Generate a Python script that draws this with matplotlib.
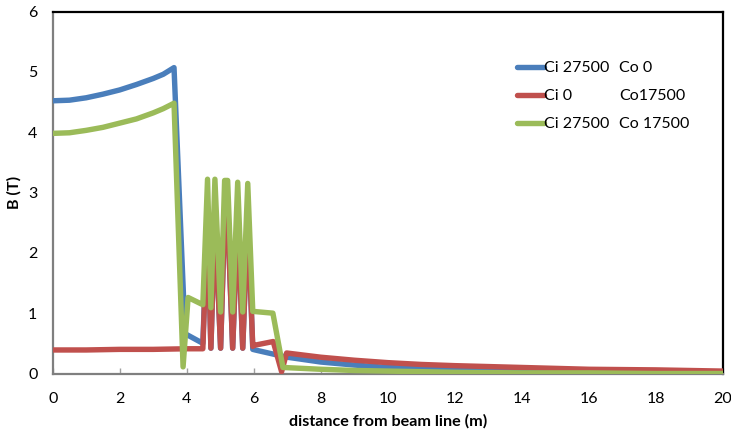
import matplotlib
matplotlib.use("Agg")
import matplotlib.pyplot as plt

plt.rcParams['font.family'] = ['Lato', 'DejaVu Sans']

# Field profiles along the radial distance from the beam line
x_blue = [0.0, 0.5, 1.0, 1.5, 2.0, 2.5, 3.0, 3.3, 3.62, 3.95, 4.48,
          4.62, 4.72, 4.84, 5.01, 5.13, 5.22, 5.37, 5.52, 5.67, 5.82, 5.97,
          6.04, 6.83, 7.0, 8.0, 9.0, 10.0, 11.0, 12.0, 14.0, 16.0, 18.0, 20.0]
b_blue = [4.52, 4.53, 4.57, 4.63, 4.70, 4.79, 4.89, 4.96, 5.07, 0.66, 0.50,
          2.60, 0.42, 2.62, 0.42, 2.62, 2.62, 0.42, 2.60, 0.42, 2.60, 0.40,
          0.39, 0.29, 0.27, 0.19, 0.14, 0.10, 0.08, 0.07, 0.05, 0.04, 0.03, 0.02]

x_red = [0.0, 1.0, 2.0, 3.0, 4.0, 4.48,
         4.62, 4.72, 4.84, 5.01, 5.13, 5.22, 5.37, 5.52, 5.67, 5.82, 5.97,
         6.04, 6.58, 6.83, 6.98, 8.0, 9.0, 10.0, 11.0, 12.0, 14.0, 16.0, 18.0, 20.0]
b_red = [0.39, 0.39, 0.40, 0.40, 0.41, 0.41,
         2.60, 0.42, 2.60, 0.42, 2.58, 2.58, 0.42, 2.60, 0.42, 2.60, 0.45,
         0.47, 0.53, 0.03, 0.34, 0.27, 0.22, 0.18, 0.15, 0.13, 0.10, 0.07, 0.06, 0.04]

x_green = [0.0, 0.5, 1.0, 1.5, 2.0, 2.5, 3.0, 3.3, 3.62, 3.89, 4.04, 4.48,
           4.62, 4.72, 4.84, 5.01, 5.13, 5.22, 5.37, 5.52, 5.67, 5.82, 5.97,
           6.57, 6.87, 8.0, 9.0, 10.0, 12.0, 14.0, 16.0, 18.0, 20.0]
b_green = [3.98, 3.99, 4.03, 4.08, 4.15, 4.22, 4.32, 4.39, 4.48, 0.11, 1.26, 1.14,
           3.22, 1.09, 3.22, 1.02, 3.20, 3.20, 1.02, 3.17, 1.02, 3.15, 1.03,
           1.00, 0.10, 0.07, 0.05, 0.04, 0.02, 0.01, 0.01, 0.00, 0.00]

labels_ci = ["Ci 27500", "Ci 0", "Ci 27500"]
labels_co = ["Co 0", "Co17500", "Co 17500"]
colors = ["#4A7EBB", "#C0504D", "#9BBB59"]

x_ticks = [0, 2, 4, 6, 8, 10, 12, 14, 16, 18, 20]
y_ticks = [0, 1, 2, 3, 4, 5, 6]

fig = plt.figure(figsize=(7.31, 4.34), dpi=100)
ax = fig.add_axes([0.0721, 0.1394, 0.989 - 0.0721, 0.9735 - 0.1394])

lw = 3.9
series = [(x_blue, b_blue), (x_red, b_red), (x_green, b_green)]
handles = []
for (xs, ys), c, lab in zip(series, colors, labels_ci):
    h, = ax.plot(xs, ys, color=c, lw=lw, label=lab,
                 solid_joinstyle='round', solid_capstyle='round', zorder=3)
    handles.append(h)

ax.set_xlim(0, 20)
ax.set_ylim(0, 6)
ax.set_xticks(x_ticks)
ax.set_yticks(y_ticks)

ax.tick_params(axis='x', direction='in', length=4, width=1, color='#A0A0A0',
               pad=13, labelsize=11.5)
ax.tick_params(axis='y', length=0, pad=11, labelsize=11.5)

for side in ['left', 'bottom']:
    ax.spines[side].set_color('#7F7F7F')
    ax.spines[side].set_linewidth(1.6)
for side in ['top', 'right']:
    ax.spines[side].set_color('black')
    ax.spines[side].set_linewidth(1.6)

ax.set_xlabel("distance from beam line (m)", fontsize=11.6, fontweight='bold',
              labelpad=6)
ax.set_ylabel("B (T)", fontsize=11.6, fontweight='bold', labelpad=5)

leg = ax.legend(handles=handles, loc='upper left',
                bbox_to_anchor=(0.681, 0.885), frameon=False, fontsize=11.5,
                handlelength=1.7, handletextpad=0.0, labelspacing=0.87,
                borderpad=0)

# Second column of the legend text
fig.canvas.draw()
renderer = fig.canvas.get_renderer()
inv = fig.transFigure.inverted()
for t, co in zip(leg.get_texts(), labels_co):
    bb = t.get_window_extent(renderer)
    ymid = (bb.y0 + bb.y1) / 2
    xf, yf = inv.transform((619, ymid))
    fig.text(xf, yf, co, fontsize=11.5, va='center', ha='left')

fig.savefig("out.png", dpi=100)
